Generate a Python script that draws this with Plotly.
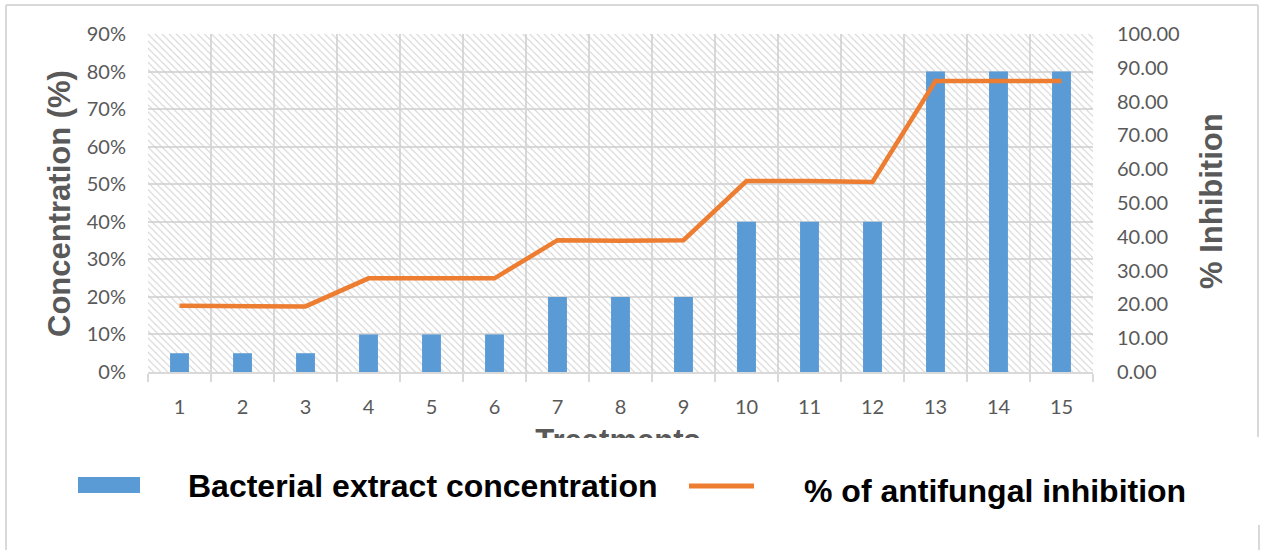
import plotly.graph_objects as go

# ---- data ----
treatments = list(range(1, 16))
tick_labels = [str(t) for t in treatments]
concentration = [0.05, 0.05, 0.05, 0.10, 0.10, 0.10, 0.20, 0.20, 0.20,
                 0.40, 0.40, 0.40, 0.80, 0.80, 0.80]
inhibition = [19.6, 19.4, 19.4, 27.7, 27.7, 27.7, 39.0, 38.8, 39.0,
              56.5, 56.5, 56.2, 86.1, 86.1, 86.1]
conc_ticks = [i / 10 for i in range(10)]
inhib_ticks = [i * 10 for i in range(11)]

# ---- canvas geometry (pixels) ----
W, H = 1261, 550
PLOT_L, PLOT_R, PLOT_T, PLOT_B = 148, 1093, 34, 372


def px(x):
    return x / W


def py(y):
    return (H - y) / H


GRID = "#D9D9D9"
TICK_FONT = dict(family="Lato, Open Sans, sans-serif", size=20, color="#595959")
TITLE_FONT = dict(family="Liberation Sans, Arial, sans-serif", size=31, color="#595959")
LEGEND_FONT = dict(family="Liberation Sans, Arial, sans-serif", size=32, color="#000000")
BLUE = "#5B9BD5"
ORANGE = "#ED7D31"

fig = go.Figure()

# hatched plot-area background, drawn as one full-width bar under the data
n = len(treatments)
fig.add_trace(go.Bar(
    x=[(1 + n) / 2], y=[conc_ticks[-1]], width=[n], base=[0],
    marker=dict(color="rgba(0,0,0,0)", line=dict(width=0),
                pattern=dict(shape="\\", fgcolor="#CFCFCF", bgcolor="rgba(0,0,0,0)",
                             size=5, solidity=0.2, fillmode="replace")),
    hoverinfo="skip", showlegend=False,
))

fig.add_trace(go.Bar(
    x=treatments, y=concentration, width=0.3,
    marker=dict(color=BLUE, line=dict(width=0)),
    name="Bacterial extract concentration", showlegend=False,
))

fig.add_trace(go.Scatter(
    x=treatments, y=inhibition, yaxis="y2", mode="lines",
    line=dict(color=ORANGE, width=4.5),
    name="% of antifungal inhibition", showlegend=False,
))

# x-axis title, clipped by its own narrow subplot
fig.add_trace(go.Scatter(
    x=[618], y=[-443], xaxis="x3", yaxis="y3", mode="text",
    text=["<b>Treatments</b>"], textfont=TITLE_FONT,
    textposition="middle center", cliponaxis=True,
    hoverinfo="skip", showlegend=False,
))

fig.update_layout(
    width=W, height=H,
    margin=dict(l=0, r=0, t=0, b=0),
    paper_bgcolor="white", plot_bgcolor="rgba(0,0,0,0)",
    barmode="overlay",
    template="none",
    xaxis=dict(
        domain=[px(PLOT_L), px(PLOT_R)], range=[0.5, n + 0.5],
        tickvals=treatments, ticktext=tick_labels, tickfont=TICK_FONT,
        ticks="", showgrid=False, zeroline=False,
        showline=True, linecolor=GRID, linewidth=2,
        ticklabelstandoff=16,
        minor=dict(tickvals=[t - 0.5 for t in treatments] + [n + 0.5],
                   showgrid=True, gridcolor=GRID, gridwidth=2,
                   ticks="outside", ticklen=8, tickcolor=GRID, tickwidth=2),
        automargin=False, fixedrange=True,
    ),
    yaxis=dict(
        domain=[py(PLOT_B), py(PLOT_T)], range=[0, conc_ticks[-1]],
        tickvals=conc_ticks, tickformat=".0%", tickfont=TICK_FONT,
        ticks="", ticklabelstandoff=21,
        showgrid=True, gridcolor=GRID, gridwidth=2,
        zeroline=False, showline=False, automargin=False, fixedrange=True,
    ),
    yaxis2=dict(
        overlaying="y", side="right", anchor="x",
        range=[0, inhib_ticks[-1]], tickvals=inhib_ticks, tickformat=".2f",
        tickfont=TICK_FONT, ticks="", ticklabelstandoff=23,
        showgrid=False, zeroline=False, showline=False,
        automargin=False, fixedrange=True,
    ),
    xaxis3=dict(domain=[0, 1], range=[0, W], visible=False, anchor="y3",
                fixedrange=True),
    yaxis3=dict(domain=[py(438), py(420)], range=[-438, -420], visible=False,
                anchor="x3", fixedrange=True),
)

# axis titles
fig.add_annotation(text="<b>Concentration (%)</b>", xref="paper", yref="paper",
                   x=px(60), y=py(204), textangle=-90, showarrow=False,
                   font=TITLE_FONT, xanchor="center", yanchor="middle")
fig.add_annotation(text="<b>% Inhibition</b>", xref="paper", yref="paper",
                   x=px(1211), y=py(201), textangle=-90, showarrow=False,
                   font=TITLE_FONT, xanchor="center", yanchor="middle")

# legend
fig.add_shape(type="rect", xref="paper", yref="paper",
              x0=px(78), x1=px(140), y0=py(493), y1=py(477),
              fillcolor=BLUE, line=dict(width=0))
fig.add_annotation(text="<b>Bacterial extract concentration</b>", xref="paper",
                   yref="paper", x=px(186), y=py(486), xanchor="left",
                   yanchor="middle", showarrow=False, font=LEGEND_FONT)
fig.add_shape(type="line", xref="paper", yref="paper",
              x0=px(689), x1=px(754), y0=py(486), y1=py(486),
              line=dict(color=ORANGE, width=5))
fig.add_annotation(text="<b>% of antifungal inhibition</b>", xref="paper",
                   yref="paper", x=px(802), y=py(491), xanchor="left",
                   yanchor="middle", showarrow=False, font=LEGEND_FONT)

# outer frame
frame = dict(color="#D9D9D9", width=2)
fig.add_shape(type="line", xref="paper", yref="paper",
              x0=px(6), x1=px(6), y0=py(5), y1=py(H + 2), line=frame)
fig.add_shape(type="line", xref="paper", yref="paper",
              x0=px(6), x1=px(1258), y0=py(5), y1=py(5), line=frame)
fig.add_shape(type="line", xref="paper", yref="paper",
              x0=px(1258), x1=px(1258), y0=py(5), y1=py(437), line=frame)
fig.add_shape(type="line", xref="paper", yref="paper",
              x0=px(1259), x1=px(1259), y0=py(525), y1=py(H + 2), line=frame)

fig.write_html("out.html")
